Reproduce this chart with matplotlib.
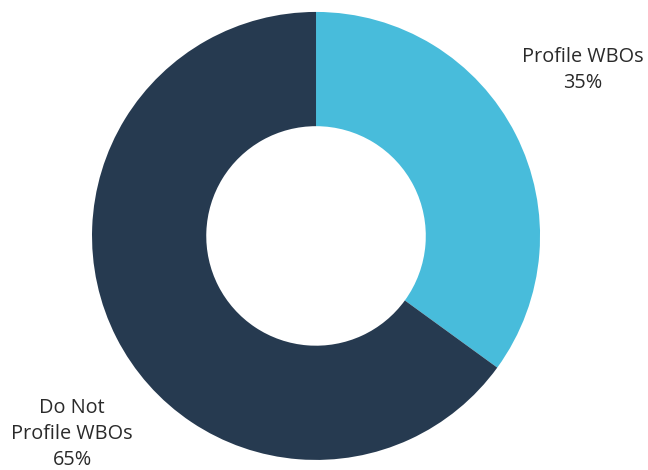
import matplotlib.pyplot as plt

# share of respondents
labels = ['Profile WBOs', 'Do Not\nProfile WBOs']
values = [35, 65]
colors = ['#48bcdb', '#263a50']

fig = plt.figure(figsize=(6.48, 4.70), dpi=100)
# donut axis: centre and radius in figure fractions
ax = fig.add_axes([0.4877 - 0.3457, 0.498 - 0.4766, 0.6914, 0.9532])
ax.pie(values, colors=colors, startangle=90, counterclock=False,
       wedgeprops=dict(width=0.51, edgecolor='none'))
ax.set_xlim(-1, 1)
ax.set_ylim(-1, 1)
ax.set_aspect('auto')
ax.axis('off')

txt = dict(family='Open Sans', fontsize=14.3, color='#2a2a2a',
           ha='center', va='center', linespacing=1.42)
fig.text(583 / 648, 1 - 70 / 470, f'{labels[0]}\n{values[0]}%', **txt)
fig.text(72 / 648, 1 - 434 / 470, f'{labels[1]}\n{values[1]}%', **txt)

fig.savefig('out.png', dpi=100)
